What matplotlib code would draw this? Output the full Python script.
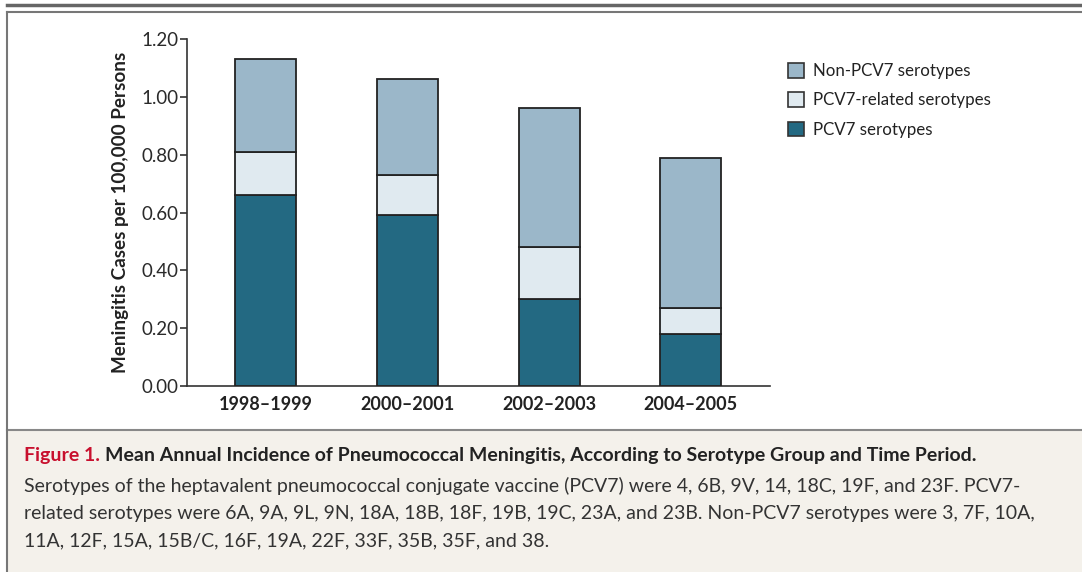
import matplotlib
matplotlib.use("Agg")
import matplotlib.pyplot as plt
from matplotlib.patches import Rectangle
from matplotlib.lines import Line2D

periods = ["1998\u20131999", "2000\u20132001", "2002\u20132003", "2004\u20132005"]
pcv7 = [0.66, 0.59, 0.30, 0.18]
pcv7_related = [0.15, 0.14, 0.18, 0.09]
non_pcv7 = [0.32, 0.33, 0.48, 0.52]
series_names = ["Non-PCV7 serotypes", "PCV7-related serotypes", "PCV7 serotypes"]
yticks = [0.0, 0.2, 0.4, 0.6, 0.8, 1.0, 1.2]

c_pcv7 = "#236982"
c_rel = "#e0eaf0"
c_non = "#9bb7c9"
edge = "#222222"

plt.rcParams['font.family'] = ['Lato', 'DejaVu Sans']

W, H = 1082, 572
fig = plt.figure(figsize=(W / 100, H / 100), dpi=100)

def fx(px):
    return px / W

def fy(py):
    return 1 - py / H

# Caption background
fig.patches.append(Rectangle((fx(7), 0), 1 - fx(7), fy(430), transform=fig.transFigure,
                             facecolor="#f4f1eb", edgecolor="none", zorder=0))
# frame lines
fig.lines.append(Line2D([fx(7), 1], [fy(5), fy(5)], transform=fig.transFigure, color="#666666", lw=2.5))
fig.lines.append(Line2D([fx(7), 1], [fy(12), fy(12)], transform=fig.transFigure, color="#777777", lw=1.5))
fig.lines.append(Line2D([fx(7), 1], [fy(430), fy(430)], transform=fig.transFigure, color="#888888", lw=1.5))
fig.lines.append(Line2D([fx(7), fx(7)], [0, fy(12)], transform=fig.transFigure, color="#777777", lw=1.5))

ax = fig.add_axes([fx(187), fy(386), fx(770) - fx(187), fy(39) - fy(386)])
x = list(range(len(periods)))
bw = 0.43
bottom2 = [a + b for a, b in zip(pcv7, pcv7_related)]
ax.bar(x, pcv7, bw, color=c_pcv7, edgecolor=edge, linewidth=1.3, zorder=3)
ax.bar(x, pcv7_related, bw, bottom=pcv7, color=c_rel, edgecolor=edge, linewidth=1.3, zorder=3)
ax.bar(x, non_pcv7, bw, bottom=bottom2, color=c_non, edgecolor=edge, linewidth=1.3, zorder=3)

ax.set_xlim(-0.554, 3.558)
ax.set_ylim(0, 1.2)
ax.set_yticks(yticks)
ax.set_yticklabels([f"{v:.2f}" for v in yticks], fontsize=13.5, color="#2a2a2a")
ax.set_xticks(x)
ax.set_xticklabels(periods, fontsize=13, fontweight="bold", color="#222222")
ax.tick_params(axis="x", length=0, pad=7)
ax.tick_params(axis="y", length=5, width=1.2, color="#333333", pad=1)
for s in ["top", "right"]:
    ax.spines[s].set_visible(False)
ax.spines["left"].set_color("#333333")
ax.spines["bottom"].set_color("#333333")
ax.spines["left"].set_linewidth(1.2)
ax.spines["bottom"].set_linewidth(1.2)
ax.set_ylabel("Meningitis Cases per 100,000 Persons", fontsize=13.6, fontweight="bold",
              color="#222222", labelpad=9)
ax.patch.set_alpha(0)

handles = [Rectangle((0, 0), 1, 1, facecolor=c, edgecolor="#333333", linewidth=1.2)
           for c in (c_non, c_rel, c_pcv7)]
fig.legend(handles, series_names, loc="upper left", bbox_to_anchor=(fx(788), fy(63)),
           frameon=False, fontsize=12.2, handlelength=0.95, handleheight=0.95,
           handletextpad=0.55, labelspacing=0.78, borderpad=0, borderaxespad=0,
           labelcolor="#222222")

# Caption
cap_fs = 14
t1 = fig.text(fx(24), fy(456), "Figure 1.", fontsize=cap_fs, fontweight="bold", color="#c8102e",
              va="center", ha="left")
fig.canvas.draw()
bb = t1.get_window_extent()
fig.text(bb.x1 / W + fx(5), fy(456),
         "Mean Annual Incidence of Pneumococcal Meningitis, According to Serotype Group and Time Period.",
         fontsize=cap_fs, fontweight="bold", color="#222222", va="center", ha="left")
body = [
    "Serotypes of the heptavalent pneumococcal conjugate vaccine (PCV7) were 4, 6B, 9V, 14, 18C, 19F, and 23F. PCV7-",
    "related serotypes were 6A, 9A, 9L, 9N, 18A, 18B, 18F, 19B, 19C, 23A, and 23B. Non-PCV7 serotypes were 3, 7F, 10A,",
    "11A, 12F, 15A, 15B/C, 16F, 19A, 22F, 33F, 35B, 35F, and 38.",
]
for i, line in enumerate(body):
    fig.text(fx(24), fy(486 + 27.5 * i), line, fontsize=cap_fs, color="#333333", va="center", ha="left")

fig.savefig("out.png", dpi=100)
